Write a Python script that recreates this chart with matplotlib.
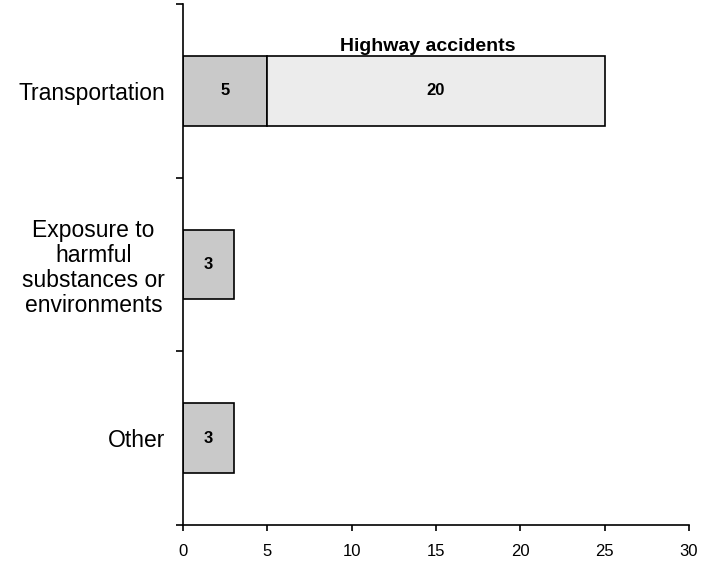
import numpy as np
import matplotlib.pyplot as plt

plt.rcParams['font.family'] = ['Liberation Sans', 'DejaVu Sans']

categories = ["Transportation",
              "Exposure to\nharmful\nsubstances or\nenvironments",
              "Other"]
first_part = [5, 3, 3]
highway = [20, 0, 0]
xticks = [0, 5, 10, 15, 20, 25, 30]

fig = plt.figure(figsize=(7.15, 5.63), dpi=100)
ax = fig.add_axes([0.256, 0.0675, 0.7076, 0.9254])

ypos = np.arange(len(categories))[::-1]

# first segment (darker stipple)
ax.barh(ypos, first_part, height=0.4, color="#c9c9c9", edgecolor="black",
        linewidth=1.2)
# highway accidents segment (lighter)
ax.barh(ypos[0], highway[0], left=first_part[0], height=0.4, color="#ececec",
        edgecolor="black", linewidth=1.2)

for y, v in zip(ypos, first_part):
    ax.text(v / 2, y, str(v), ha="center", va="center", fontsize=12,
            fontweight="bold")
ax.text(first_part[0] + highway[0] / 2, ypos[0], str(highway[0]),
        ha="center", va="center", fontsize=12, fontweight="bold")
ax.text(14.5, ypos[0] + 0.23, "Highway accidents", ha="center",
        va="baseline", fontsize=14, fontweight="bold")

ax.set_xlim(0, 30)
ax.set_ylim(-0.5, 2.5)
ax.set_xticks(xticks)
ax.tick_params(axis="x", labelsize=12, length=4.5, width=1.2,
               direction="out", pad=9)

ax.set_yticks(ypos)
ax.set_yticklabels(categories, fontsize=16.5, multialignment="center",
                   linespacing=1.12)
ax.set_yticks([-0.5, 0.5, 1.5, 2.5], minor=True)
ax.tick_params(axis="y", which="major", length=0, pad=13)
ax.tick_params(axis="y", which="minor", length=5, width=1.2,
               direction="out")

ax.spines["top"].set_visible(False)
ax.spines["right"].set_visible(False)
ax.spines["left"].set_linewidth(1.2)
ax.spines["bottom"].set_linewidth(1.2)

fig.savefig("out.png", dpi=100)
